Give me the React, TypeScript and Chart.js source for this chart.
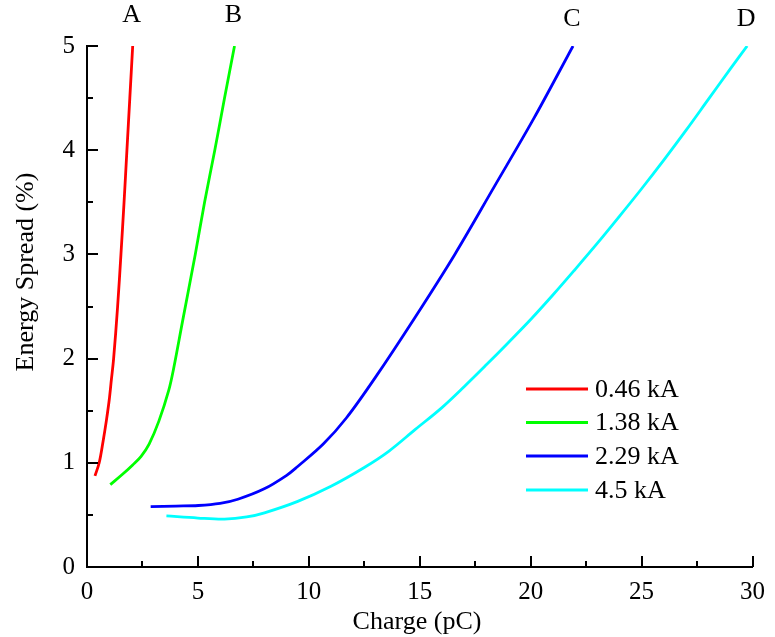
import React, { useEffect, useRef } from "react";
import { Chart, registerables } from "chart.js";

Chart.register(...registerables);

const seriesNames = ["0.46 kA", "1.38 kA", "2.29 kA", "4.5 kA"];
const seriesColors = ["#ff0000", "#00ff00", "#0000ff", "#00ffff"];
const endLabels = ["A", "B", "C", "D"];

const redX = [0.36, 0.55, 0.72, 0.87, 1.0, 1.1, 1.2, 1.38, 1.53, 1.67, 1.8, 1.93, 2.06];
const redY = [0.875, 1.0, 1.2, 1.4, 1.6, 1.8, 2.0, 2.5, 3.0, 3.5, 4.0, 4.5, 5.0];

const greenX = [1.05, 1.6, 2.06, 2.43, 2.8, 3.24, 3.69, 3.91, 4.3, 4.88, 5.3, 5.76, 6.2, 6.65];
const greenY = [0.79, 0.89, 0.98, 1.06, 1.18, 1.4, 1.7, 1.91, 2.35, 3.0, 3.5, 4.0, 4.5, 5.0];

const blueX = [2.87, 4.0, 5.02, 6.0, 6.8, 7.99, 9.0, 9.47, 10.65, 11.69, 13.0, 14.8, 16.58, 18.36, 20.13, 21.91];
const blueY = [0.58, 0.585, 0.59, 0.61, 0.65, 0.75, 0.88, 0.96, 1.18, 1.43, 1.82, 2.4, 3.0, 3.65, 4.3, 5.0];

const cyanX = [3.58, 5.0, 6.2, 7.2, 8.0, 9.5, 11.0, 12.5, 13.6, 14.8, 16.0, 17.0, 18.0, 19.0, 20.0, 21.0, 22.0, 23.0, 24.0, 25.0, 26.0, 27.0, 28.0, 29.0, 29.76];
const cyanY = [0.49, 0.47, 0.46, 0.48, 0.52, 0.63, 0.775, 0.955, 1.11, 1.32, 1.53, 1.73, 1.94, 2.155, 2.375, 2.61, 2.855, 3.105, 3.365, 3.63, 3.905, 4.19, 4.485, 4.78, 5.0];

const xTickValues = [0, 5, 10, 15, 20, 25, 30];
const yTickValues = [0, 1, 2, 3, 4, 5];

const xTitle = "Charge (pC)";
const yTitle = "Energy Spread (%)";

const FONT = "'Liberation Serif', 'Times New Roman', serif";

function toPoints(xs: number[], ys: number[]) {
  return xs.map((x, i) => ({ x, y: ys[i] }));
}

const overlayPlugin = {
  id: "overlay",
  afterDraw(chart: any) {
    const ctx = chart.ctx as CanvasRenderingContext2D;
    const xs = chart.scales.x;
    const ys = chart.scales.y;
    const area = chart.chartArea;
    ctx.save();
    ctx.strokeStyle = "#000";
    ctx.lineWidth = 2;
    for (let v = ys.min; v <= ys.max + 1e-9; v += 0.5) {
      const major = Math.abs(v - Math.round(v)) < 1e-6;
      const py = Math.round(ys.getPixelForValue(v));
      ctx.beginPath();
      ctx.moveTo(area.left, py);
      ctx.lineTo(area.left + (major ? 11 : 6), py);
      ctx.stroke();
    }
    for (let v = xs.min; v <= xs.max + 1e-9; v += 2.5) {
      const major = Math.abs(v / 5 - Math.round(v / 5)) < 1e-6;
      const px = Math.round(xs.getPixelForValue(v));
      ctx.beginPath();
      ctx.moveTo(px, area.bottom);
      ctx.lineTo(px, area.bottom - (major ? 11 : 6));
      ctx.stroke();
    }
    ctx.fillStyle = "#000";
    ctx.font = `26px ${FONT}`;
    ctx.textAlign = "center";
    ctx.textBaseline = "middle";
    chart.data.datasets.forEach((ds: any, i: number) => {
      const last = ds.data[ds.data.length - 1];
      const px = xs.getPixelForValue(last.x);
      ctx.fillText(endLabels[i], px - 1, i < 2 ? 15 : 19);
    });
    ctx.font = `26px ${FONT}`;
    ctx.textAlign = "left";
    const lx0 = 526;
    const lx1 = 588;
    const rowY = [389, 422.5, 456, 490];
    chart.data.datasets.forEach((ds: any, i: number) => {
      ctx.strokeStyle = ds.borderColor;
      ctx.lineWidth = 2.8;
      ctx.beginPath();
      ctx.moveTo(lx0, rowY[i]);
      ctx.lineTo(lx1, rowY[i]);
      ctx.stroke();
      ctx.fillStyle = "#000";
      ctx.fillText(ds.label, 595, rowY[i] + 1);
    });
    ctx.font = `26px ${FONT}`;
    ctx.textAlign = "center";
    ctx.fillText(xTitle, 417, 622);
    ctx.translate(26, 272);
    ctx.rotate(-Math.PI / 2);
    ctx.fillText(yTitle, 0, 0);
    ctx.restore();
  },
};

export default function App() {
  const ref = useRef<HTMLCanvasElement | null>(null);
  useEffect(() => {
    document.body.style.margin = "0";
    const canvas = ref.current;
    if (!canvas) return;
    const allX = [redX, greenX, blueX, cyanX];
    const allY = [redY, greenY, blueY, cyanY];
    const chart = new Chart(canvas, {
      type: "line",
      data: {
        datasets: seriesNames.map((name, i) => ({
          label: name,
          data: toPoints(allX[i], allY[i]),
          borderColor: seriesColors[i],
          backgroundColor: seriesColors[i],
          borderWidth: 2.8,
          pointRadius: 0,
          fill: false,
          tension: 0.35,
        })),
      },
      options: {
        responsive: false,
        animation: false,
        layout: { padding: { top: 46, right: 13, left: 0, bottom: 0 } },
        plugins: {
          legend: { display: false },
          tooltip: { enabled: false },
        },
        scales: {
          x: {
            type: "linear",
            min: 0,
            max: 30,
            afterFit: (s: any) => {
              s.height = 70;
            },
            afterBuildTicks: (s: any) => {
              s.ticks = xTickValues.map((v) => ({ value: v }));
            },
            grid: { display: false, drawTicks: false },
            border: { display: true, color: "#000", width: 2 },
            ticks: {
              color: "#000",
              padding: 10,
              maxRotation: 0,
              font: { family: FONT, size: 25 },
            },
          },
          y: {
            type: "linear",
            min: 0,
            max: 5,
            afterFit: (s: any) => {
              s.width = 87;
            },
            afterBuildTicks: (s: any) => {
              s.ticks = yTickValues.map((v) => ({ value: v }));
            },
            grid: { display: false, drawTicks: false },
            border: { display: true, color: "#000", width: 2 },
            ticks: {
              color: "#000",
              padding: 12,
              font: { family: FONT, size: 25 },
            },
          },
        },
      },
      plugins: [overlayPlugin],
    });
    return () => chart.destroy();
  }, []);
  return <canvas ref={ref} width={775} height={637} style={{ display: "block" }} />;
}
